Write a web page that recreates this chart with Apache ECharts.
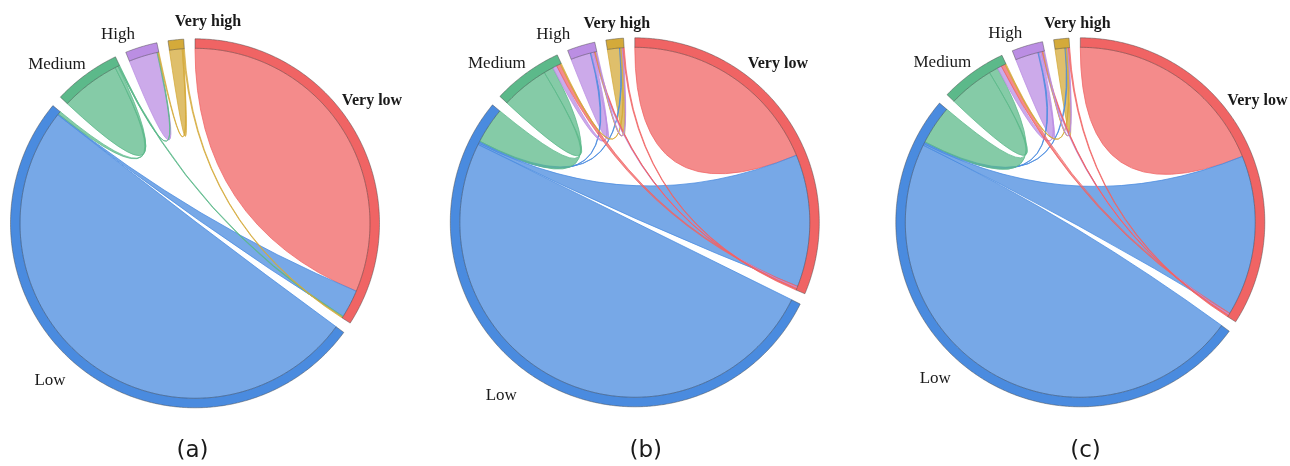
<!DOCTYPE html>
<html>
<head>
<meta charset="utf-8">
<script src="https://cdn.jsdelivr.net/npm/echarts@6.0.0/dist/echarts.min.js"></script>
<style>
  html, body { margin: 0; padding: 0; background: #ffffff; }
  #chart { width: 1290px; height: 466px; }
</style>
</head>
<body>
<div id="chart"></div>
<script>
// Risk classes, in clockwise order starting from 12 o'clock
const CLASSES = ['Very low', 'Low', 'Medium', 'High', 'Very high'];
const CLASS_COLORS = ['#F06464', '#4A8BDF', '#5CB98A', '#BB8EE3', '#D4AA3A'];
const PANEL_TITLES = ['(a)', '(b)', '(c)'];

// Class transitions: [from, to, share at the "from" end (%), share at the "to" end (%)]
const FLOWS_A = [
  ['Very low', 'Very low', 32.9, 32.9],
  ['Low', 'Low', 53.1, 53.1],
  ['Medium', 'Medium', 5.75, 5.75],
  ['High', 'High', 2.77, 2.77],
  ['Very high', 'Very high', 1.23, 1.23],
  ['Low', 'Very low', 0.18, 5.43],
  ['Medium', 'Low', 0.58, 0.58],
  ['Medium', 'Very low', 0.18, 0.18],
  ['Medium', 'High', 0.18, 0.18],
  ['Very high', 'High', 0.18, 0.18],
  ['Very high', 'Very low', 0.23, 0.18]
];

const FLOWS_B = [
  ['Very low', 'Very low', 19.7, 19.7],
  ['Low', 'Low', 52.6, 52.6],
  ['Medium', 'Medium', 4.62, 4.62],
  ['High', 'High', 1.93, 1.93],
  ['Very high', 'Very high', 1.17, 1.17],
  ['Low', 'Very low', 0.29, 25.7],
  ['Low', 'High', 0.23, 0.23],
  ['Low', 'Very high', 0.18, 0.18],
  ['Medium', 'Low', 1.87, 6.96],
  ['High', 'Medium', 0.35, 0.82],
  ['Very low', 'Medium', 0.23, 0.76],
  ['Very high', 'Medium', 0.18, 0.23],
  ['High', 'Very low', 0.23, 0.18],
  ['Very low', 'High', 0.18, 0.18],
  ['Very high', 'High', 0.12, 0.12],
  ['High', 'Very high', 0.18, 0.18],
  ['Very low', 'Very high', 0.18, 0.23]
];

const FLOWS_C = [
  ['Very low', 'Very low', 19.8, 19.8],
  ['Low', 'Low', 49.6, 49.6],
  ['Medium', 'Medium', 4.38, 4.38],
  ['High', 'High', 2.22, 2.22],
  ['Very high', 'Very high', 0.96, 0.96],
  ['Low', 'Very low', 0.29, 31.2],
  ['Low', 'High', 0.23, 0.23],
  ['Low', 'Very high', 0.18, 0.18],
  ['Medium', 'Low', 1.75, 7.53],
  ['High', 'Medium', 0.35, 0.82],
  ['Very low', 'Medium', 0.23, 0.76],
  ['Very high', 'Medium', 0.18, 0.23],
  ['High', 'Very low', 0.23, 0.18],
  ['Very low', 'High', 0.18, 0.18],
  ['Very high', 'High', 0.12, 0.12],
  ['High', 'Very high', 0.18, 0.18],
  ['Very low', 'Very high', 0.18, 0.23]
];

const PANEL_FLOWS = [FLOWS_A, FLOWS_B, FLOWS_C];

// ---- layout constants ----
const PANEL_CENTERS = [[195, 223.3], [634.8, 222.3], [1080.3, 222.3]];
const OUTER_RADIUS = 184.5;
const RING_INNER = 0.9485;      // inner edge of the class ring, as a fraction of the radius
const GAP_DEG = 3.5;            // gap between neighbouring classes
const LABEL_OFFSETS = [
  [[177, -122], [-145, 157], [-138, -159], [-77, -189], [13, -201]],
  [[143, -158], [-133.5, 173.5], [-138, -159], [-81.5, -188], [-18, -198]],
  [[177, -121.5], [-145, 156], [-138, -159.6], [-75, -189], [-3, -198]]
];
const TITLE_X = [192.5, 645.8, 1085.5];
const TITLE_Y = 451;

function rgba(hex, a) {
  const n = parseInt(hex.slice(1), 16);
  return 'rgba(' + ((n >> 16) & 255) + ',' + ((n >> 8) & 255) + ',' + (n & 255) + ',' + a + ')';
}

// Place every class segment and every ribbon end along the angle axis.
function layoutFlows(flows) {
  const idx = name => CLASSES.indexOf(name);
  const size = CLASSES.map(() => 0);
  flows.forEach(f => { size[idx(f[0])] += f[2]; size[idx(f[1])] += f[3]; });
  const sum = size.reduce((s, v) => s + v, 0);
  const total = sum * 360 / (360 - CLASSES.length * GAP_DEG);
  const gap = total * GAP_DEG / 360;
  const start = [];
  let acc = 0;
  size.forEach((s, i) => { start[i] = acc; acc += s + gap; });
  const cursor = start.slice();
  const ribbons = flows.map(f => {
    const i = idx(f[0]), j = idx(f[1]);
    const a = [cursor[i], cursor[i] + f[2]]; cursor[i] += f[2];
    const b = [cursor[j], cursor[j] + f[3]]; cursor[j] += f[3];
    return { a: a, b: b, color: CLASS_COLORS[i] };
  });
  const sectors = size.map((s, i) => ({ from: start[i], to: start[i] + s, color: CLASS_COLORS[i] }));
  return { total: total, sectors: sectors, ribbons: ribbons };
}

const layouts = PANEL_FLOWS.map(layoutFlows);

function fmt(p) { return p[0].toFixed(2) + ',' + p[1].toFixed(2); }

// points along a circle of the given radius between two angle values
function arcPath(api, r, from, to, total) {
  const n = Math.max(2, Math.ceil(Math.abs(to - from) / total * 360 * 2));
  let d = '';
  for (let k = 1; k <= n; k++) {
    const v = from + (to - from) * k / n;
    d += 'L' + fmt(api.coord([r, v]));
  }
  return d;
}

const series = [];
layouts.forEach((L, pi) => {
  // ribbons
  series.push({
    type: 'custom',
    coordinateSystem: 'polar',
    polarIndex: pi,
    silent: true,
    data: L.ribbons.map(() => [0, 0]),
    renderItem: function (params, api) {
      const rb = L.ribbons[params.dataIndex];
      const C = fmt(api.coord([0, 0]));
      const a1 = rb.a[0], a2 = rb.a[1], b1 = rb.b[0], b2 = rb.b[1];
      let d = 'M' + fmt(api.coord([RING_INNER, a1]));
      d += arcPath(api, RING_INNER, a1, a2, L.total);
      if (Math.abs(b1 - a2) > 1e-9) d += 'Q' + C + ' ' + fmt(api.coord([RING_INNER, b1]));
      d += arcPath(api, RING_INNER, b1, b2, L.total);
      if (Math.abs(a1 - b2) > 1e-9) d += 'Q' + C + ' ' + fmt(api.coord([RING_INNER, a1]));
      d += 'Z';
      return {
        type: 'path',
        shape: { pathData: d },
        style: { fill: rgba(rb.color, 0.75), stroke: rgba(rb.color, 0.95), lineWidth: 0.8 }
      };
    }
  });
  // class ring
  series.push({
    type: 'custom',
    coordinateSystem: 'polar',
    polarIndex: pi,
    silent: true,
    data: L.sectors.map(() => [0, 0]),
    renderItem: function (params, api) {
      const s = L.sectors[params.dataIndex];
      let d = 'M' + fmt(api.coord([1, s.from]));
      d += arcPath(api, 1, s.from, s.to, L.total);
      d += 'L' + fmt(api.coord([RING_INNER, s.to]));
      d += arcPath(api, RING_INNER, s.to, s.from, L.total);
      d += 'Z';
      return {
        type: 'path',
        shape: { pathData: d },
        style: { fill: s.color, stroke: 'rgba(70,70,70,0.65)', lineWidth: 0.7 }
      };
    }
  });
});

const graphic = [];
PANEL_CENTERS.forEach((c, pi) => {
  CLASSES.forEach((name, ci) => {
    const off = LABEL_OFFSETS[pi][ci];
    const strong = name.indexOf('Very') === 0;
    graphic.push({
      type: 'text',
      x: c[0] + off[0],
      y: c[1] + off[1],
      silent: true,
      style: {
        text: name,
        fontFamily: 'Liberation Serif',
        fontSize: strong ? 16 : 17,
        fontWeight: strong ? 'bold' : 'normal',
        fill: '#1a1a1a',
        align: 'center', verticalAlign: 'middle',
        textAlign: 'center', textVerticalAlign: 'middle'
      }
    });
  });
  graphic.push({
    type: 'text',
    x: TITLE_X[pi],
    y: TITLE_Y,
    silent: true,
    style: {
      text: PANEL_TITLES[pi],
      fontFamily: 'DejaVu Sans',
      fontSize: 23,
      fill: '#1a1a1a',
      align: 'center', verticalAlign: 'middle',
      textAlign: 'center', textVerticalAlign: 'middle'
    }
  });
});

const hiddenAxis = { show: false, axisLine: { show: false }, axisTick: { show: false }, axisLabel: { show: false }, splitLine: { show: false }, splitArea: { show: false } };

const chart = echarts.init(document.getElementById('chart'), null, { renderer: 'canvas' });
chart.setOption({
  backgroundColor: '#ffffff',
  animation: false,
  polar: PANEL_CENTERS.map(c => ({ center: c, radius: OUTER_RADIUS })),
  angleAxis: layouts.map((L, i) => Object.assign({
    polarIndex: i, type: 'value', min: 0, max: L.total, startAngle: 90, clockwise: true
  }, hiddenAxis)),
  radiusAxis: layouts.map((L, i) => Object.assign({
    polarIndex: i, type: 'value', min: 0, max: 1
  }, hiddenAxis)),
  series: series,
  graphic: graphic
});
</script>
</body>
</html>
